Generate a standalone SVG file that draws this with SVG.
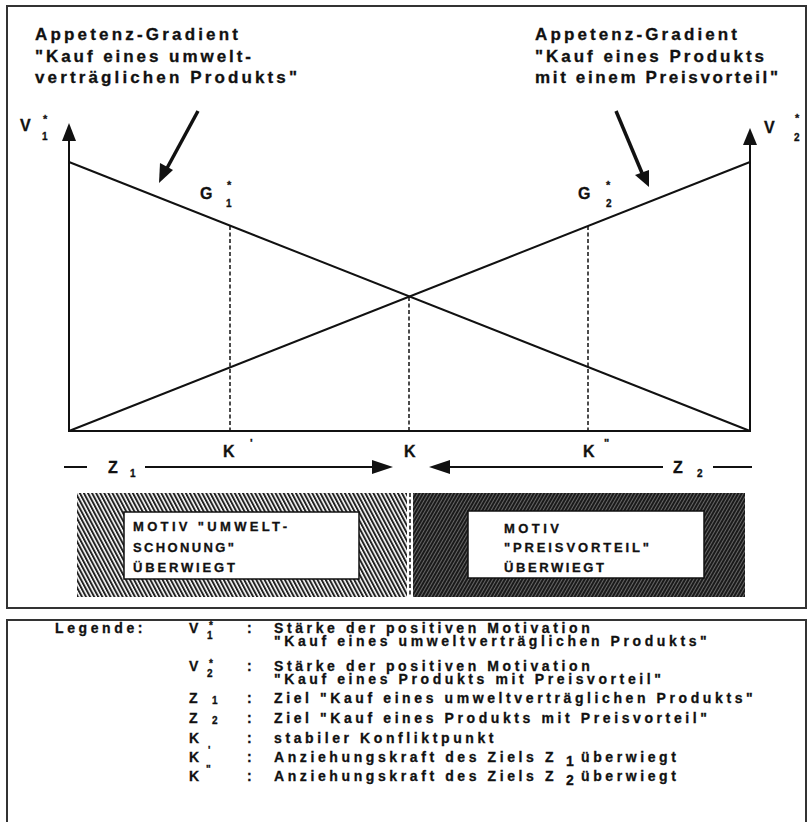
<svg xmlns="http://www.w3.org/2000/svg" width="812" height="822" viewBox="0 0 812 822">
<defs>
<style>
text{font-family:"Liberation Sans",Arial,sans-serif;font-weight:bold;fill:#111;stroke:#111;stroke-width:0.3}
.t{font-size:17px}
.lab{font-size:16px}
.sub{font-size:10px}
.ast{font-size:11px}
.box{font-size:13px}
.lg{font-size:14px;letter-spacing:3.6px}
.lgs{font-size:14px}
.frame{fill:none;stroke:#333;stroke-width:2}
.ln{stroke:#111;stroke-width:2;fill:none}
.dash{stroke:#111;stroke-width:1.5;stroke-dasharray:4 2.5;fill:none}
.ptr{stroke:#111;stroke-width:3.5;fill:none}
.head{fill:#111}
</style>
<pattern id="hatchL" patternUnits="userSpaceOnUse" width="3.6" height="3.6" patternTransform="rotate(-28)">
<rect width="3.6" height="3.6" fill="#fff"/>
<rect width="2" height="3.6" fill="#222"/>
</pattern>
<pattern id="hatchR" patternUnits="userSpaceOnUse" width="3" height="3" patternTransform="rotate(30)">
<rect width="3" height="3" fill="#888"/>
<rect width="2.3" height="3" fill="#1a1a1a"/>
</pattern>
</defs>
<rect width="812" height="822" fill="#fff"/>

<g id="frame-diagram"><rect class="frame" x="7" y="6" width="799" height="602"/></g>
<g id="frame-legend"><rect class="frame" x="7" y="620" width="799" height="215"/></g>

<g id="title-left">
<text class="t" x="35" y="40" textLength="203" lengthAdjust="spacing">Appetenz-Gradient</text>
<text class="t" x="35" y="61.5" textLength="216" lengthAdjust="spacing">"Kauf eines umwelt-</text>
<text class="t" x="35" y="83" textLength="262" lengthAdjust="spacing">verträglichen Produkts"</text>
</g>
<g id="title-right">
<text class="t" x="535" y="40" textLength="202" lengthAdjust="spacing">Appetenz-Gradient</text>
<text class="t" x="535" y="61.5" textLength="229" lengthAdjust="spacing">"Kauf eines Produkts</text>
<text class="t" x="535" y="83" textLength="243" lengthAdjust="spacing">mit einem Preisvorteil"</text>
</g>

<g id="axis-v1">
<line class="ln" x1="69" y1="140" x2="69" y2="432"/>
<polygon class="head" points="69,123 62,141 76,141"/>
<text class="lab" x="20" y="131">V</text>
<text class="sub" x="42" y="140">1</text>
<text class="ast" x="43" y="123">*</text>
</g>
<g id="axis-v2">
<line class="ln" x1="750" y1="144" x2="750" y2="432"/>
<polygon class="head" points="750,128 743,145 757,145"/>
<text class="lab" x="764" y="133">V</text>
<text class="sub" x="794" y="141">2</text>
<text class="ast" x="795" y="122">*</text>
</g>

<g id="connectors">
<line class="ln" x1="69" y1="431" x2="750" y2="431" stroke-width="2.5"/>
<line id="gradient-1" class="ln" x1="69" y1="162" x2="750" y2="431"/>
<line id="gradient-2" class="ln" x1="69" y1="431" x2="750" y2="162"/>
<line class="dash" x1="230" y1="226" x2="230" y2="431"/>
<line class="dash" x1="409" y1="297" x2="409" y2="431"/>
<line class="dash" x1="588" y1="226" x2="588" y2="431"/>
<line class="ptr" x1="198" y1="111" x2="166" y2="170"/>
<polygon class="head" points="159,183 160,163 173,170"/>
<line class="ptr" x1="616" y1="111" x2="642" y2="173"/>
<polygon class="head" points="649,187 635,175 649,170"/>
<line class="ln" x1="64" y1="467" x2="87" y2="467"/>
<line class="ln" x1="145" y1="467" x2="375" y2="467"/>
<polygon class="head" points="393,467 372,460 372,474"/>
<line class="ln" x1="448" y1="467" x2="663" y2="467"/>
<polygon class="head" points="429,467 450,460 450,474"/>
<line class="ln" x1="713" y1="467" x2="752" y2="467"/>
</g>

<g id="label-g1">
<text class="lab" x="200" y="199">G</text>
<text class="ast" x="227" y="189">*</text>
<text class="sub" x="226" y="207">1</text>
</g>
<g id="label-g2">
<text class="lab" x="578" y="199">G</text>
<text class="ast" x="606" y="189">*</text>
<text class="sub" x="606" y="207">2</text>
</g>

<g id="label-k1">
<text class="lab" x="223" y="457">K</text>
<text class="ast" x="250" y="447">'</text>
</g>
<g id="label-k">
<text class="lab" x="404" y="457">K</text>
</g>
<g id="label-k2">
<text class="lab" x="583" y="457">K</text>
<text class="ast" x="604" y="447">"</text>
</g>
<g id="label-z1">
<text class="lab" x="108" y="473">Z</text>
<text class="sub" x="130" y="477">1</text>
</g>
<g id="label-z2">
<text class="lab" x="673" y="473">Z</text>
<text class="sub" x="697" y="477">2</text>
</g>

<g id="motiv-umwelt">
<rect x="77" y="493" width="330" height="104" fill="url(#hatchL)"/>
<rect x="124" y="512" width="235" height="67" fill="#fff" stroke="#111" stroke-width="1.5"/>
<text class="box" x="133" y="531" textLength="154" lengthAdjust="spacing">MOTIV "UMWELT-</text>
<text class="box" x="133" y="552" textLength="101" lengthAdjust="spacing">SCHONUNG"</text>
<text class="box" x="133" y="572" textLength="102" lengthAdjust="spacing">ÜBERWIEGT</text>
</g>
<g id="divider">
<line class="dash" x1="410" y1="493" x2="410" y2="597"/>
</g>
<g id="motiv-preis">
<rect x="413" y="493" width="332" height="104" fill="url(#hatchR)"/>
<rect x="468" y="511" width="236" height="67" fill="#fff" stroke="#111" stroke-width="1.5"/>
<text class="box" x="504" y="533" textLength="55" lengthAdjust="spacing">MOTIV</text>
<text class="box" x="504" y="552" textLength="145" lengthAdjust="spacing">"PREISVORTEIL"</text>
<text class="box" x="504" y="572" textLength="100" lengthAdjust="spacing">ÜBERWIEGT</text>
</g>

<g id="legend">
<text class="lg" x="55" y="633">Legende:</text>
<g id="legend-v1">
<text class="lgs" x="189" y="633">V</text>
<text class="sub" x="207" y="639" font-size="9">1</text>
<text class="sub" x="209" y="629">*</text>
<text class="lgs" x="247" y="633">:</text>
<text class="lg" x="274" y="633">Stärke der positiven Motivation</text>
<text class="lg" x="274" y="646">"Kauf eines umweltverträglichen Produkts"</text>
</g>
<g id="legend-v2">
<text class="lgs" x="189" y="671">V</text>
<text class="sub" x="207" y="677" font-size="9">2</text>
<text class="sub" x="209" y="667">*</text>
<text class="lgs" x="247" y="671">:</text>
<text class="lg" x="274" y="671">Stärke der positiven Motivation</text>
<text class="lg" x="274" y="684">"Kauf eines Produkts mit Preisvorteil"</text>
</g>
<g id="legend-z1">
<text class="lgs" x="189" y="703">Z</text>
<text class="sub" x="212" y="704" font-size="11">1</text>
<text class="lgs" x="247" y="703">:</text>
<text class="lg" x="274" y="703">Ziel "Kauf eines umweltverträglichen Produkts"</text>
</g>
<g id="legend-z2">
<text class="lgs" x="189" y="723">Z</text>
<text class="sub" x="212" y="724" font-size="11">2</text>
<text class="lgs" x="247" y="723">:</text>
<text class="lg" x="274" y="723">Ziel "Kauf eines Produkts mit Preisvorteil"</text>
</g>
<g id="legend-k">
<text class="lgs" x="189" y="743">K</text>
<text class="lgs" x="247" y="743">:</text>
<text class="lg" x="274" y="743">stabiler Konfliktpunkt</text>
</g>
<g id="legend-k1">
<text class="lgs" x="189" y="762">K</text>
<text class="sub" x="208" y="754">'</text>
<text class="lgs" x="247" y="762">:</text>
<text class="lg" x="274" y="762">Anziehungskraft des Ziels Z</text>
<text class="lgs" x="566" y="766" font-size="12">1</text>
<text class="lg" x="581" y="762">überwiegt</text>
</g>
<g id="legend-k2">
<text class="lgs" x="189" y="781">K</text>
<text class="sub" x="206" y="773">"</text>
<text class="lgs" x="247" y="781">:</text>
<text class="lg" x="274" y="781">Anziehungskraft des Ziels Z</text>
<text class="lgs" x="566" y="785" font-size="12">2</text>
<text class="lg" x="581" y="781">überwiegt</text>
</g>
</g>
</svg>
